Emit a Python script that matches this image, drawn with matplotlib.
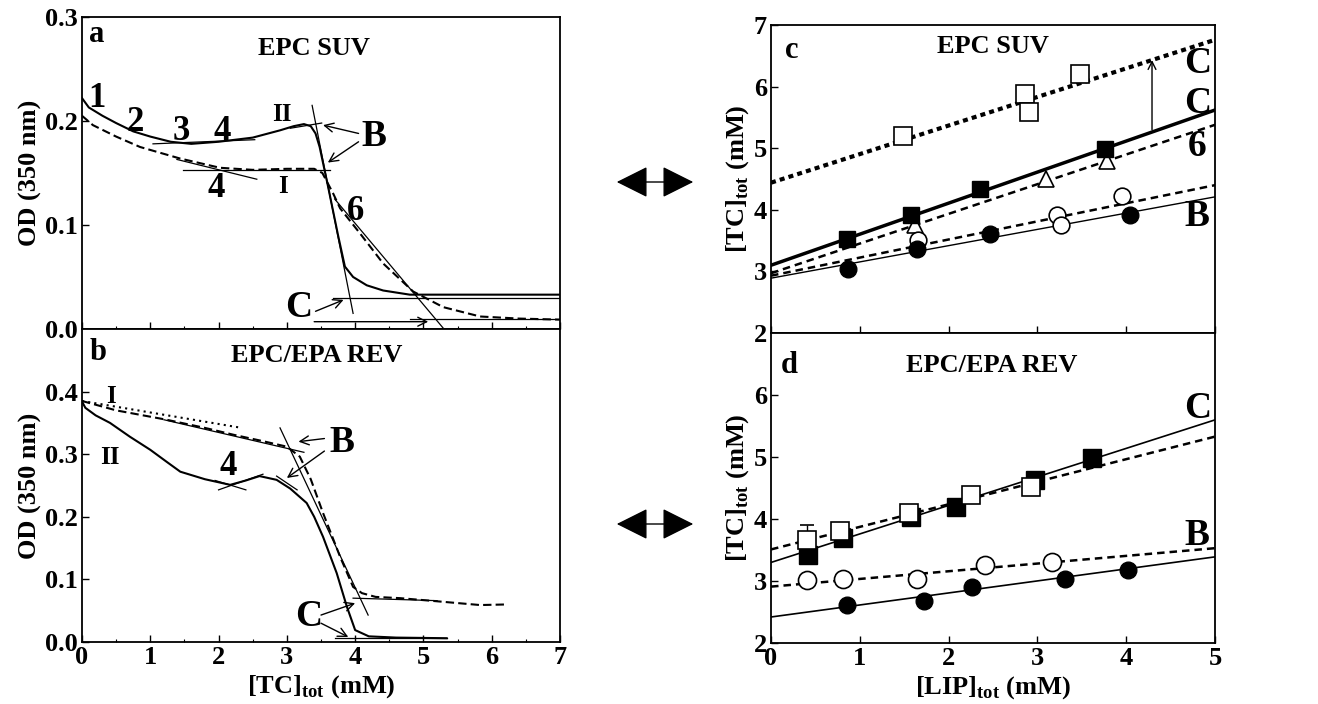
"""
Turbidity titration curves (a, b) and phase-boundary plots (c, d).
"""

import numpy as np
import matplotlib
matplotlib.use('Agg')
import matplotlib.pyplot as plt
from matplotlib.patches import FancyArrowPatch

# ---------------- panel a : EPC SUV, OD vs [TC] ----------------
a_II_x = [0, 0.1, 0.3, 0.5, 0.75, 1.0, 1.3, 1.6, 2.0, 2.5, 2.9, 3.1, 3.25, 3.35, 3.42,
          3.48, 3.6, 3.75, 3.85, 3.97, 4.17, 4.41, 4.8, 5.5, 7.0]
a_II_y = [0.222, 0.213, 0.205, 0.198, 0.190, 0.185, 0.180, 0.178, 0.180, 0.184, 0.191,
          0.195, 0.197, 0.195, 0.188, 0.175, 0.138, 0.090, 0.060, 0.050, 0.042, 0.037,
          0.033, 0.033, 0.033]
a_I_x = [0, 0.16, 0.5, 0.85, 1.43, 2.02, 2.5, 3.0, 3.4, 3.52, 3.68, 3.78, 4.07, 4.41,
         4.85, 5.29, 5.83, 6.4, 7.0]
a_I_y = [0.205, 0.196, 0.185, 0.175, 0.164, 0.155, 0.153, 0.154, 0.154, 0.150, 0.130,
         0.116, 0.092, 0.063, 0.036, 0.021, 0.012, 0.010, 0.009]
# tangent construction lines (x0, y0, x1, y1)
a_tangents = [
    (3.37, 0.215, 3.97, 0.015),
    (3.05, 0.193, 3.51, 0.198),
    (1.48, 0.153, 3.63, 0.153),
    (1.39, 0.163, 2.56, 0.144),
    (1.04, 0.178, 2.53, 0.182),
    (3.70, 0.125, 5.30, 0.000),
    (3.68, 0.030, 7.00, 0.030),
    (4.80, 0.010, 7.00, 0.010),
]
# arrows (tail x, tail y, head x, head y)
a_arrows = [
    (4.05, 0.188, 3.53, 0.196),
    (4.05, 0.180, 3.60, 0.160),
    (3.42, 0.017, 3.83, 0.028),
    (3.40, 0.007, 5.07, 0.007),
]
# (text, x, y, size)
a_labels = [
    ('1', 0.22, 0.222, 25), ('2', 0.78, 0.199, 25), ('3', 1.46, 0.190, 25),
    ('4', 2.05, 0.190, 25), ('II', 2.93, 0.206, 18), ('4', 1.97, 0.135, 25),
    ('I', 2.95, 0.137, 18), ('6', 4.00, 0.113, 25), ('B', 4.28, 0.185, 27),
    ('C', 3.17, 0.021, 27), ('a', 0.22, 0.283, 22), ('EPC SUV', 3.40, 0.270, 19),
]

# ---------------- panel b : EPC/EPA REV ----------------
b_II_x = [0, 0.05, 0.2, 0.41, 0.7, 1.0, 1.25, 1.44, 1.8, 2.17, 2.4, 2.6, 2.85, 3.05,
          3.29, 3.4, 3.53, 3.73, 3.88, 4.0, 4.2, 4.6, 5.34]
b_II_y = [0.384, 0.374, 0.362, 0.350, 0.328, 0.307, 0.287, 0.272, 0.260, 0.251, 0.258,
          0.265, 0.259, 0.245, 0.222, 0.200, 0.168, 0.110, 0.056, 0.019, 0.009, 0.007, 0.006]
b_I_x = [0, 0.5, 1.24, 1.8, 2.22, 2.6, 3.0, 3.19, 3.35, 3.53, 3.78, 3.97, 4.1, 4.3,
         4.66, 5.2, 5.83, 6.24]
b_I_y = [0.385, 0.370, 0.355, 0.342, 0.331, 0.322, 0.312, 0.296, 0.260, 0.206, 0.136,
         0.088, 0.078, 0.072, 0.070, 0.065, 0.059, 0.060]
b_dot_x = [0, 2.34]
b_dot_y = [0.385, 0.342]
b_tangents = [
    (2.90, 0.342, 4.19, 0.043),
    (1.20, 0.355, 3.25, 0.303),
    (1.95, 0.258, 2.40, 0.243),
    (2.00, 0.243, 2.65, 0.268),
    (2.85, 0.265, 3.15, 0.243),
    (3.97, 0.070, 5.20, 0.066),
    (3.70, 0.006, 5.34, 0.006),
]
b_arrows = [
    (3.55, 0.325, 3.17, 0.320),
    (3.55, 0.305, 3.00, 0.262),
    (3.50, 0.043, 4.00, 0.062),
    (3.50, 0.030, 3.90, 0.008),
]
b_labels = [
    ('I', 0.43, 0.392, 18), ('II', 0.41, 0.294, 18), ('4', 2.14, 0.280, 25),
    ('B', 3.80, 0.318, 27), ('C', 3.32, 0.040, 27), ('b', 0.24, 0.462, 22),
    ('EPC/EPA REV', 3.44, 0.458, 19),
]

# ---------------- panel c : EPC SUV, [TC] vs [LIP] ----------------
c_fsq_x = [0.85, 1.58, 2.35, 3.76]
c_fsq_y = [3.53, 3.92, 4.34, 4.98]
c_fci_x = [0.87, 1.64, 2.47, 4.04]
c_fci_y = [3.04, 3.37, 3.60, 3.92]
c_oci_x = [1.66, 3.22, 3.27, 3.95]
c_oci_y = [3.51, 3.92, 3.75, 4.22]
c_otr_x = [1.62, 3.10, 3.78]
c_otr_y = [3.75, 4.50, 4.80]
c_osq_x = [1.49, 2.86, 2.90, 3.48]
c_osq_y = [5.19, 5.88, 5.59, 6.20]
# fitted lines: intercept, slope
c_fit_osq = (4.44, 0.464)
c_fit_fsq = (3.10, 0.504)
c_fit_otr = (2.97, 0.482)
c_fit_oci = (2.93, 0.294)
c_fit_fci = (2.89, 0.264)
c_labels = [('C', 4.80, 6.38), ('C', 4.80, 5.73), ('6', 4.80, 5.02), ('B', 4.80, 3.89)]

# ---------------- panel d : EPC/EPA REV ----------------
d_fsq_x = [0.42, 0.81, 1.58, 2.08, 2.97, 3.61]
d_fsq_y = [3.42, 3.69, 4.04, 4.20, 4.63, 4.98]
d_osq_x = [0.40, 0.78, 1.55, 2.25, 2.93]
d_osq_y = [3.67, 3.80, 4.09, 4.39, 4.52]
d_osq_err = [0.23, 0, 0, 0, 0]
d_oci_x = [0.40, 0.81, 1.64, 2.41, 3.16]
d_oci_y = [3.02, 3.03, 3.03, 3.26, 3.31]
d_fci_x = [0.85, 1.72, 2.26, 3.31, 4.02]
d_fci_y = [2.61, 2.67, 2.91, 3.04, 3.18]
d_fit_fsq = (3.30, 0.460)
d_fit_osq = (3.51, 0.364)
d_fit_oci = (2.91, 0.124)
d_fit_fci = (2.42, 0.194)
d_labels = [('C', 4.80, 5.79), ('B', 4.80, 3.74)]

plt.rcParams['font.family'] = ['Liberation Serif', 'DejaVu Serif']
plt.rcParams['font.weight'] = 'bold'
plt.rcParams['mathtext.fontset'] = 'custom'
plt.rcParams['mathtext.rm'] = 'Liberation Serif:bold'
plt.rcParams['mathtext.bf'] = 'Liberation Serif:bold'
plt.rcParams['axes.linewidth'] = 1.3

fig = plt.figure(figsize=(13.18, 7.04), dpi=100)
ax_a = fig.add_axes([0.0622, 0.5327, 0.3627, 0.4432])
ax_b = fig.add_axes([0.0622, 0.0881, 0.3627, 0.4446])
ax_c = fig.add_axes([0.585, 0.527, 0.3369, 0.4375])
ax_d = fig.add_axes([0.585, 0.0866, 0.3369, 0.4403])


def style_axis(ax):
    ax.tick_params(direction='in', length=5, width=1, labelsize=19, pad=3)
    ax.tick_params(which='minor', direction='in', length=2, width=0.8)
    for lab in ax.get_xticklabels() + ax.get_yticklabels():
        lab.set_fontweight('bold')


def draw_segments(ax, segs):
    for x0, y0, x1, y1 in segs:
        ax.plot([x0, x1], [y0, y1], color='black', lw=0.9)


def draw_arrows(ax, arrows):
    for x0, y0, x1, y1 in arrows:
        ax.annotate('', xy=(x1, y1), xytext=(x0, y0),
                    arrowprops=dict(arrowstyle='->', lw=1.0, color='black',
                                    mutation_scale=16, shrinkA=0, shrinkB=0))


def fit_line(ax, fit, **kw):
    xs = np.array([0, 5])
    ax.plot(xs, fit[0] + fit[1] * xs, color='black', **kw)


# ---- panel a
ax_a.plot(a_II_x, a_II_y, color='black', lw=1.5)
ax_a.plot(a_I_x, a_I_y, color='black', lw=1.5, linestyle=(0, (4, 2)))
draw_segments(ax_a, a_tangents)
draw_arrows(ax_a, a_arrows)
for txt, x, y, s in a_labels:
    ax_a.text(x, y, txt, fontsize=s, fontweight='bold', ha='center', va='center')
ax_a.set_xlim(0, 7)
ax_a.set_ylim(0, 0.3)
ax_a.set_yticks([0, 0.1, 0.2, 0.3])
ax_a.set_yticklabels(['0.0', '0.1', '0.2', '0.3'])
ax_a.set_xticks(range(8))
ax_a.set_xticks(np.arange(0.5, 7, 1), minor=True)
ax_a.set_xticklabels([])
ax_a.set_ylabel('OD (350 nm)', fontsize=19, fontweight='bold', labelpad=2)
style_axis(ax_a)

# ---- panel b
ax_b.plot(b_II_x, b_II_y, color='black', lw=1.5)
ax_b.plot(b_I_x, b_I_y, color='black', lw=1.5, linestyle=(0, (4, 2)))
ax_b.plot(b_dot_x, b_dot_y, color='black', lw=1.5, linestyle=(0, (1, 2)))
draw_segments(ax_b, b_tangents)
draw_arrows(ax_b, b_arrows)
for txt, x, y, s in b_labels:
    ax_b.text(x, y, txt, fontsize=s, fontweight='bold', ha='center', va='center')
ax_b.set_xlim(0, 7)
ax_b.set_ylim(0, 0.5)
ax_b.set_yticks([0, 0.1, 0.2, 0.3, 0.4])
ax_b.set_yticklabels(['0.0', '0.1', '0.2', '0.3', '0.4'])
ax_b.set_xticks(range(8))
ax_b.set_xticks(np.arange(0.5, 7, 1), minor=True)
ax_b.set_xlabel(r'[TC]$_{\mathrm{tot}}$ (mM)', fontsize=19, fontweight='bold', labelpad=3)
ax_b.set_ylabel('OD (350 nm)', fontsize=19, fontweight='bold', labelpad=2)
style_axis(ax_b)

# ---- panel c
fit_line(ax_c, c_fit_osq, lw=3.0, linestyle=(0, (1.2, 1.0)))
fit_line(ax_c, c_fit_fsq, lw=2.5)
fit_line(ax_c, c_fit_otr, lw=1.8, linestyle=(0, (3, 2)))
fit_line(ax_c, c_fit_oci, lw=1.8, linestyle=(0, (3, 2)))
fit_line(ax_c, c_fit_fci, lw=1.0)
ax_c.plot(c_osq_x, c_osq_y, 's', ms=13, mfc='white', mec='black', mew=1.2)
ax_c.plot(c_otr_x, c_otr_y, '^', ms=12, mfc='white', mec='black', mew=1.2)
ax_c.plot(c_oci_x, c_oci_y, 'o', ms=12, mfc='white', mec='black', mew=1.2)
ax_c.plot(c_fsq_x, c_fsq_y, 's', ms=12, color='black')
ax_c.plot(c_fci_x, c_fci_y, 'o', ms=12, color='black')
ax_c.annotate('', xy=(4.29, 6.43), xytext=(4.29, 5.30),
              arrowprops=dict(arrowstyle='->', lw=1.0, color='black',
                              mutation_scale=14, shrinkA=0, shrinkB=0))
for txt, x, y in c_labels:
    ax_c.text(x, y, txt, fontsize=27, fontweight='bold', ha='center', va='center')
ax_c.text(0.23, 6.59, 'c', fontsize=22, fontweight='bold', ha='center', va='center')
ax_c.text(2.50, 6.65, 'EPC SUV', fontsize=19, fontweight='bold', ha='center', va='center')
ax_c.set_xlim(0, 5)
ax_c.set_ylim(2, 7)
ax_c.set_yticks(range(2, 8))
ax_c.set_xticks(range(6))
ax_c.set_xticklabels([])
ax_c.set_ylabel(r'[TC]$_{\mathrm{tot}}$ (mM)', fontsize=19, fontweight='bold', labelpad=2)
style_axis(ax_c)

# ---- panel d
fit_line(ax_d, d_fit_fsq, lw=1.2)
fit_line(ax_d, d_fit_osq, lw=1.8, linestyle=(0, (3, 2)))
fit_line(ax_d, d_fit_oci, lw=1.8, linestyle=(0, (3, 2)))
fit_line(ax_d, d_fit_fci, lw=1.2)
ax_d.errorbar(d_osq_x, d_osq_y, yerr=[[0] * len(d_osq_err), d_osq_err], fmt='s', ms=13,
              mfc='white', mec='black', mew=1.2, ecolor='black', elinewidth=1,
              capsize=5)
ax_d.plot(d_oci_x, d_oci_y, 'o', ms=13, mfc='white', mec='black', mew=1.2)
ax_d.plot(d_fsq_x, d_fsq_y, 's', ms=13, color='black')
ax_d.plot(d_fci_x, d_fci_y, 'o', ms=12, color='black')
for txt, x, y in d_labels:
    ax_d.text(x, y, txt, fontsize=27, fontweight='bold', ha='center', va='center')
ax_d.text(0.21, 6.48, 'd', fontsize=22, fontweight='bold', ha='center', va='center')
ax_d.text(2.48, 6.48, 'EPC/EPA REV', fontsize=19, fontweight='bold', ha='center', va='center')
ax_d.set_xlim(0, 5)
ax_d.set_ylim(2, 7)
ax_d.set_yticks(range(2, 7))
ax_d.set_xticks(range(6))
ax_d.set_xlabel(r'[LIP]$_{\mathrm{tot}}$ (mM)', fontsize=19, fontweight='bold', labelpad=3)
ax_d.set_ylabel(r'[TC]$_{\mathrm{tot}}$ (mM)', fontsize=19, fontweight='bold', labelpad=2)
style_axis(ax_d)

# double-headed arrows linking left and right panels
for y_px in (524, 182):
    arr = FancyArrowPatch((614, 704 - y_px), (696, 704 - y_px), transform=None,
                          arrowstyle='<|-|>,head_length=0.9,head_width=0.45',
                          mutation_scale=22, color='black', lw=1.0)
    fig.add_artist(arr)

plt.savefig('out.png', dpi=100)
plt.close()
